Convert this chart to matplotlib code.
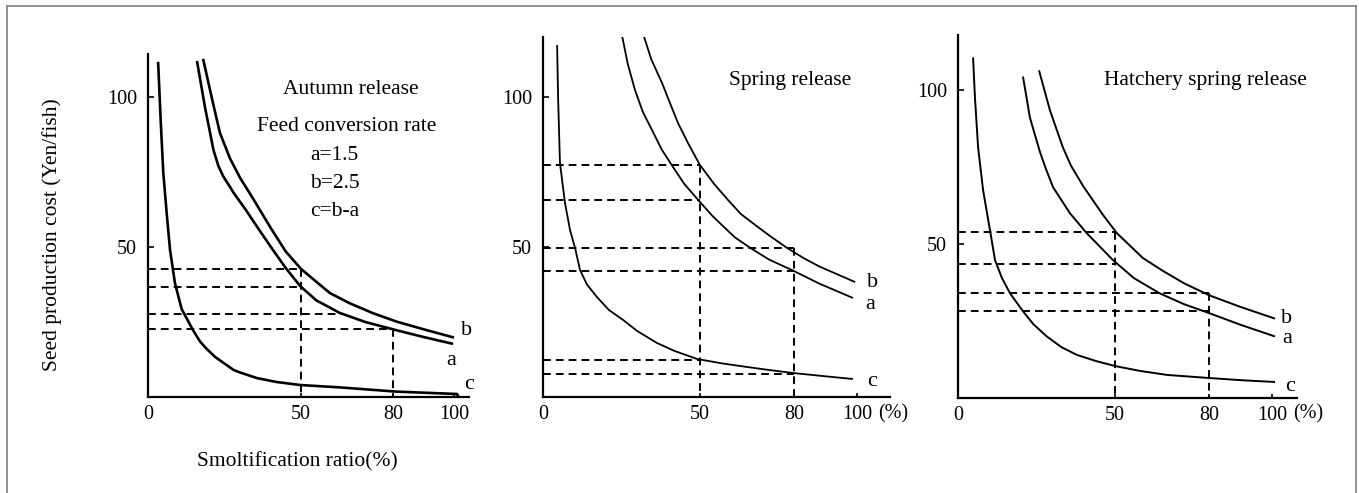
import matplotlib
matplotlib.use("Agg")
import matplotlib.pyplot as plt
from matplotlib.lines import Line2D

W, H = 1359, 493

# ---- values ----
# Autumn release
aut_a_x = [16, 18.6, 21.4, 23, 24.6, 26.5, 28, 32, 36, 40.5, 45, 49.7, 55, 62.7, 71, 81, 90, 99.7]
aut_a_y = [112, 96.7, 82.3, 77, 73.5, 70.5, 68, 62.3, 56.2, 49.5, 43, 37, 32.2, 28, 25, 22.3, 20, 17.7]
aut_b_x = [18, 21, 23.5, 26.8, 30.1, 34.4, 40, 45, 50, 55, 59.5, 66, 73.6, 81.3, 91, 100]
aut_b_y = [112.7, 99, 88, 79.5, 73, 66, 56.5, 48.5, 42.7, 38.4, 34.6, 31.2, 27.9, 25.1, 22.3, 19.8]
aut_c_x = [3.3, 4.2, 5, 6.1, 7.2, 8.8, 11, 14.7, 17, 19.2, 22, 24.5, 28, 30, 35.6, 42, 49.7, 62.7, 81, 101, 101.5]
aut_c_y = [111.7, 91, 74.7, 61.3, 49, 38, 29.3, 22.3, 18.5, 16, 13.3, 11.5, 9, 8.2, 6.3, 5, 4, 3.2, 1.8, 1, 0]
aut_hlines = [42.7, 36.7, 27.7, 22.7]
aut_hends = [50, 50, 63.5, 80]
aut_vlines = [50, 80]
aut_vtops = [42.7, 22.7]

# Spring release
spr_a_x = [25.2, 27, 29.3, 31.8, 34.7, 37.8, 41, 45, 49.4, 54, 61, 66, 72, 79.3, 88, 98.7]
spr_a_y = [120.3, 111, 102.3, 95, 89, 82.5, 77.3, 71, 65.7, 60.3, 53.3, 49.7, 45.8, 42.3, 37.8, 33]
spr_b_x = [31.8, 34.5, 37.9, 40.5, 43, 46.5, 50, 54.5, 58.9, 63, 68, 72.5, 77.7, 83, 88, 93.5, 99.4]
spr_b_y = [121.3, 112.5, 104.7, 97.8, 91.3, 84, 77.3, 71, 65.7, 61, 57, 53.5, 49.7, 46.3, 43.5, 41, 38.3]
spr_c_x = [4.5, 4.8, 5.4, 7, 8.6, 10.2, 11.8, 14, 17.2, 21, 25.5, 30, 36.3, 42, 49, 57, 65, 72, 79.6, 89, 98.7]
spr_c_y = [117.3, 100, 78, 64.7, 55.7, 49.7, 42.3, 37.5, 33.3, 29, 25.7, 22, 18, 15.3, 12.7, 11.2, 10, 9, 8, 7, 6]
spr_hlines = [77.3, 65.7, 49.7, 42, 12.3, 7.7]
spr_hends = [50, 50, 80, 80, 50, 80]
spr_vlines = [50, 80]
spr_vtops = [77.3, 49.7]

# Hatchery spring release
hat_a_x = [20.7, 22.9, 26.1, 28, 30.3, 35.7, 41, 49.4, 56, 64.3, 72, 80, 90, 101]
hat_a_y = [104.5, 91.2, 80, 74.5, 68.5, 60, 53.6, 44.8, 39, 34, 30.5, 27.6, 23.8, 20]
hat_b_x = [25.8, 29.3, 33.4, 36, 39.8, 46.2, 50.6, 58.9, 65.3, 72, 80, 90, 101]
hat_b_y = [106.5, 93.5, 81.5, 75.5, 69, 59.5, 53.6, 45.5, 41.3, 37.3, 33.4, 29.6, 25.8]
hat_c_x = [4.8, 5.4, 6.4, 8, 10.2, 11.8, 14, 16.6, 20.7, 24, 28.3, 33, 37.9, 44, 50, 58, 66.6, 80, 90, 101]
hat_c_y = [110.7, 97.7, 81.5, 67.5, 54.5, 44.8, 39, 34, 28.2, 24, 20, 16.5, 14, 12, 10.4, 8.8, 7.5, 6.5, 5.8, 5.2]
hat_hlines = [54, 43.5, 34, 28.2]
hat_hends = [50, 50, 80, 80]
hat_vlines = [50, 80]
hat_vtops = [54, 34]

xticks = [0, 50, 80, 100]
yticks = [50, 100]

txt_font = "Liberation Serif"
num_font = "Liberation Serif"


def px_axes(fig, left, right, y0, top):
    return fig.add_axes([left / W, (H - y0) / H, (right - left) / W, (y0 - top) / H])


def draw_panel(ax, cx, cy, hl, he, vl, vt, xmax, ymax, lw, lab_pos):
    for (x, y) in zip(cx, cy):
        ax.plot(x, y, color="black", lw=lw, solid_capstyle="butt", solid_joinstyle="round")
    for y, xe in zip(hl, he):
        ax.plot([0, xe], [y, y], color="black", lw=1.4, dashes=(4, 2.6))
    for x, yt in zip(vl, vt):
        ax.plot([x, x], [yt, 0], color="black", lw=1.4, dashes=(4, 2.6))
    ax.set_xlim(0, xmax)
    ax.set_ylim(0, ymax)
    for s in ["top", "right"]:
        ax.spines[s].set_visible(False)
    for s in ["left", "bottom"]:
        ax.spines[s].set_linewidth(1.6)
    ax.set_xticks(xticks)
    ax.set_yticks(yticks)
    ax.set_xticklabels([str(t) for t in xticks], fontfamily=num_font, fontsize=14.5)
    ax.set_yticklabels([str(t) for t in yticks], fontfamily=num_font, fontsize=14.5)
    ax.tick_params(axis="y", direction="in", length=4, width=1.2, pad=8)
    ax.tick_params(axis="x", direction="in", length=3, width=1.2, pad=6)
    ax.patch.set_visible(False)
    for t, (x, y) in zip(["b", "a", "c"], lab_pos):
        ax.text(x, y, t, fontfamily=num_font, fontsize=16, ha="center", va="center", clip_on=False)


fig = plt.figure(figsize=(W / 100, H / 100), dpi=100)

ax1 = px_axes(fig, 148, 469.3, 397, 54)
draw_panel(ax1, [aut_a_x, aut_b_x, aut_c_x], [aut_a_y, aut_b_y, aut_c_y],
           aut_hlines, aut_hends, aut_vlines, aut_vtops, 105, 114.3, 1.9,
           [(104.2, 22.3), (99, 12.3), (105, 4)])

ax2 = px_axes(fig, 543, 890, 397, 37)
draw_panel(ax2, [spr_a_x, spr_b_x, spr_c_x], [spr_a_y, spr_b_y, spr_c_y],
           spr_hlines, spr_hends, spr_vlines, spr_vtops, 110.5, 120, 1.3,
           [(104.8, 38.3), (104.1, 30.7), (104.8, 5)])

ax3 = px_axes(fig, 958, 1297, 398, 35)
draw_panel(ax3, [hat_a_x, hat_b_x, hat_c_x], [hat_a_y, hat_b_y, hat_c_y],
           hat_hlines, hat_hends, hat_vlines, hat_vtops, 108, 118, 1.4,
           [(104.8, 26), (104.8, 19.5), (105.7, 3.6)])

# "(%)" next to 100 on the x axis
ax2.text(111.5, -5.5, "(%)", fontfamily=num_font, fontsize=14.5, ha="center", va="center", clip_on=False)
ax3.text(111.5, -5.1, "(%)", fontfamily=num_font, fontsize=14.5, ha="center", va="center", clip_on=False)

# panel texts
fs = 15.5
fig.text(351 / W, 1 - 90 / H, "Autumn release", fontfamily=txt_font, fontsize=fs, ha="center", va="center")
fig.text(347 / W, 1 - 127 / H, "Feed conversion rate", fontfamily=txt_font, fontsize=fs, ha="center", va="center")
fig.text(310 / W, 1 - 156 / H, "a=1.5", fontfamily=txt_font, fontsize=fs, ha="left", va="center")
fig.text(310 / W, 1 - 184 / H, "b=2.5", fontfamily=txt_font, fontsize=fs, ha="left", va="center")
fig.text(310 / W, 1 - 212 / H, "c=b-a", fontfamily=txt_font, fontsize=fs, ha="left", va="center")
fig.text(790 / W, 1 - 80 / H, "Spring release", fontfamily=txt_font, fontsize=fs, ha="center", va="center")
fig.text(1205 / W, 1 - 80 / H, "Hatchery spring release", fontfamily=txt_font, fontsize=fs, ha="center", va="center")

fig.text(52 / W, 1 - 235 / H, "Seed production cost (Yen/fish)", fontfamily=txt_font, fontsize=fs,
         rotation=90, ha="center", va="center")
fig.text(297 / W, 1 - 462 / H, "Smoltification ratio(%)", fontfamily=txt_font, fontsize=fs,
         ha="center", va="center")

# open-bottom frame
fc = "#8a8a8a"
fig.add_artist(Line2D([7 / W, 1356 / W], [1 - 6 / H, 1 - 6 / H], color=fc, lw=1.3))
fig.add_artist(Line2D([7 / W, 7 / W], [1 - 6 / H, 0], color=fc, lw=1.3))
fig.add_artist(Line2D([1356 / W, 1356 / W], [1 - 6 / H, 0], color=fc, lw=1.3))

fig.savefig("out.png", dpi=100)
